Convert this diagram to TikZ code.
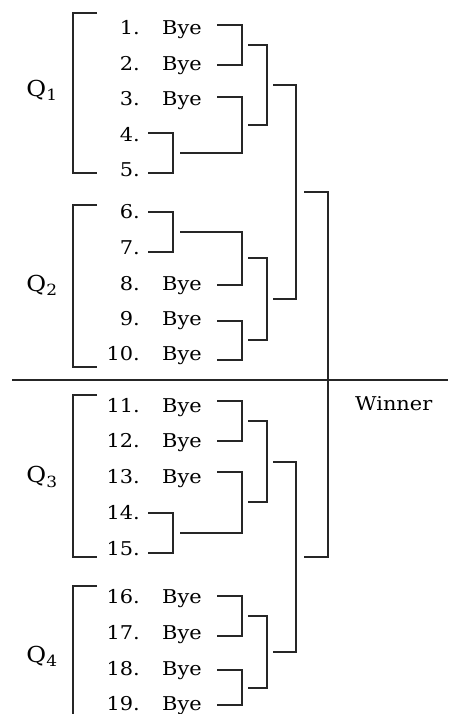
\documentclass[tikz,border=0pt]{standalone}
\usepackage{fontspec}
\setmainfont[FakeStretch=1.1]{DejaVu Serif}

\begin{document}
\begin{tikzpicture}[x=1pt,y=-1pt,
		num/.style = {anchor=base east, inner sep=0pt, font=\fontsize{19}{22}\selectfont},
		bye/.style = {anchor=base west, inner sep=0pt, font=\fontsize{19}{22}\selectfont},
		quarter/.style = {inner sep=0pt, font=\fontsize{22}{26}\selectfont},
		tie/.style = {line width=1.1pt, black!85},
		group/.style = {line width=1.1pt, black!85}
			]
		\useasboundingbox (0,0) rectangle (448,714);

		% entries
		\foreach \i/\y in {1/35,2/71,3/106,4/142,5/177,6/218,7/254,8/290,9/325,10/360,
			11/412,12/447,13/483,14/519,15/555,16/603,17/639,18/675,19/710}
			\node [num] (n\i) at (140,\y) {\i.};
		\foreach \i/\y in {1/35,2/71,3/106,8/290,9/325,10/360,11/412,12/447,13/483,
			16/603,17/639,18/675,19/710}
			\node [bye] (b\i) at (162,\y) {Bye};

		\foreach \i/\y in {1/25,2/65,3/97,8/285,9/321,10/360,11/401,12/441,13/472,
			16/596,17/636,18/670,19/705}
			\coordinate (r\i) at (217,\y);
		\foreach \i/\y in {4/133,5/173,6/212,7/252,14/513,15/553}
			\coordinate (r\i) at (148,\y);

		\node [quarter] (Q1) at (42,90) {Q\textsubscript{1}};
		\node [quarter] (Q2) at (42,285) {Q\textsubscript{2}};
		\node [quarter] (Q3) at (42,477) {Q\textsubscript{3}};
		\node [quarter] (Q4) at (42,656) {Q\textsubscript{4}};
		\node [bye] (Winner) at (355,410) {Winner};

		\draw [group] (97,13) -| (73,173) -- (97,173);
		\draw [group] (97,205) -| (73,367) -- (97,367);
		\draw [group] (97,395) -| (73,557) -- (97,557);
		\draw [group] (97,586) -| (73,714);
		\draw [group] (12,380) -- (448,380);

		% first round
		\coordinate (m45) at (173,153);
		\coordinate (m67) at (173,232);
		\coordinate (m1415) at (173,533);
		\draw [tie] (r4) -| (m45) |- (r5);
		\draw [tie] (r6) -| (m67) |- (r7);
		\draw [tie] (r14) -| (m1415) |- (r15);

		\coordinate (a1) at (242,45);
		\coordinate (a2) at (242,125);
		\coordinate (a3) at (242,258);
		\coordinate (a4) at (242,340);
		\coordinate (a5) at (242,421);
		\coordinate (a6) at (242,502);
		\coordinate (a7) at (242,616);
		\coordinate (a8) at (242,688);
		\draw [tie] (r1) -| (a1) |- (r2);
		\draw [tie] (r3) -| (a2) |- ([xshift=7pt]m45);
		\draw [tie] ([xshift=7pt]m67) -| (a3) |- (r8);
		\draw [tie] (r9) -| (a4) |- (r10);
		\draw [tie] (r11) -| (a5) |- (r12);
		\draw [tie] (r13) -| (a6) |- ([xshift=7pt]m1415);
		\draw [tie] (r16) -| (a7) |- (r17);
		\draw [tie] (r18) -| (a8) |- (r19);

		% quarter finals
		\coordinate (b1) at (267,85);
		\coordinate (b2) at (267,299);
		\coordinate (b3) at (267,462);
		\coordinate (b4) at (267,652);
		\draw [tie] ([xshift=6pt]a1) -| (b1) |- ([xshift=6pt]a2);
		\draw [tie] ([xshift=6pt]a3) -| (b2) |- ([xshift=6pt]a4);
		\draw [tie] ([xshift=6pt]a5) -| (b3) |- ([xshift=6pt]a6);
		\draw [tie] ([xshift=6pt]a7) -| (b4) |- ([xshift=6pt]a8);

		% semi finals and final
		\coordinate (c1) at (296,192);
		\coordinate (c2) at (296,557);
		\coordinate (fin) at (328,375);
		\draw [tie] ([xshift=6pt]b1) -| (c1) |- ([xshift=6pt]b2);
		\draw [tie] ([xshift=6pt]b3) -| (c2) |- ([xshift=6pt]b4);
		\draw [tie] ([xshift=8pt]c1) -| (fin) |- ([xshift=8pt]c2);

	\end{tikzpicture}
\end{document}
